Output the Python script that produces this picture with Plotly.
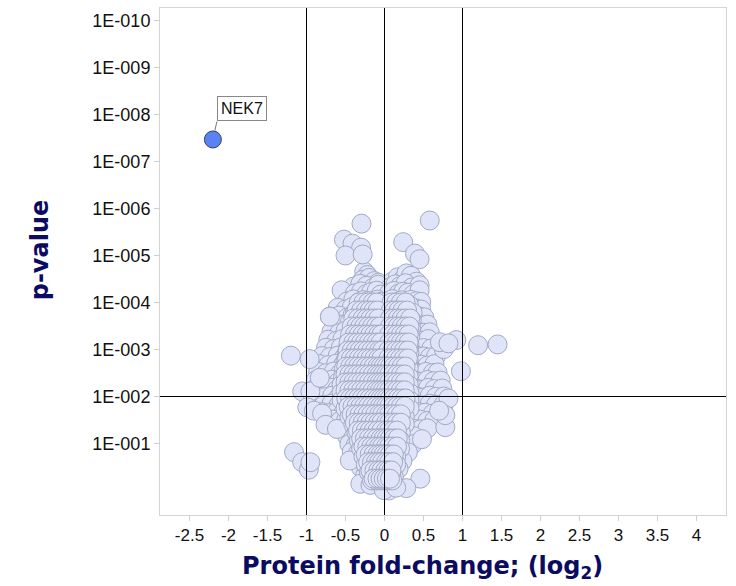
import math
import plotly.graph_objects as go

# ---- data ----
# log2 protein fold-change of every protein (one line ~ one band of p-values)
fold_change = [
    -0.26, -0.22, -0.28, -0.20, -0.13, -0.08, 0.10, 0.17, 0.24, 0.28, 0.31, 0.34, 0.41,
    -0.40, -0.31, -0.23, -0.15, -0.08, 0.08, 0.14, 0.20, 0.27, 0.35, 0.45,
    -0.55, -0.38, -0.30, -0.23, -0.17, -0.10, -0.05, 0.06, 0.12, 0.18, 0.24, 0.30, 0.37, 0.45,
    -0.48, -0.40, -0.33, -0.27, -0.21, -0.15, -0.09, -0.04, 0.05, 0.10, 0.16, 0.22, 0.28, 0.34, 0.41, 0.47,
    -0.60, -0.50, -0.42, -0.35, -0.29, -0.23, -0.17, -0.11, -0.05, 0.05, 0.10, 0.15, 0.21, 0.27, 0.33, 0.39, 0.47,
    -0.70, -0.58, -0.48, -0.41, -0.35, -0.29, -0.23, -0.17, -0.11, -0.05, 0.05, 0.10, 0.15, 0.20, 0.26, 0.32, 0.38, 0.44, 0.51,
    -0.62, -0.52, -0.45, -0.38, -0.32, -0.26, -0.20, -0.14, -0.08, -0.03, 0.04, 0.09, 0.14, 0.19, 0.25, 0.31, 0.37, 0.44, 0.55,
    -0.68, -0.58, -0.50, -0.43, -0.36, -0.30, -0.24, -0.18, -0.12, -0.07, -0.03, 0.04, 0.09, 0.14, 0.19, 0.24, 0.30, 0.36, 0.42, 0.50, 0.58,
    -0.72, -0.62, -0.54, -0.46, -0.40, -0.33, -0.27, -0.21, -0.15, -0.10, -0.05, 0.03, 0.08, 0.13, 0.18, 0.23, 0.29, 0.35, 0.41, 0.48, 0.56,
    -0.75, -0.65, -0.56, -0.48, -0.41, -0.35, -0.29, -0.23, -0.17, -0.11, -0.06, -0.02, 0.03, 0.08, 0.13, 0.18, 0.23, 0.29, 0.35, 0.42, 0.50, 0.60,
    -0.80, -0.70, -0.60, -0.52, -0.45, -0.38, -0.31, -0.25, -0.19, -0.13, -0.08, -0.03, 0.03, 0.08, 0.13, 0.18, 0.23, 0.29, 0.35, 0.42, 0.50, 0.58, 0.66,
    -0.83, -0.72, -0.62, -0.54, -0.47, -0.40, -0.33, -0.27, -0.21, -0.15, -0.10, -0.05, 0.02, 0.07, 0.12, 0.17, 0.22, 0.28, 0.34, 0.40, 0.47, 0.55, 0.64,
    -0.85, -0.75, -0.65, -0.57, -0.49, -0.42, -0.35, -0.29, -0.23, -0.17, -0.11, -0.06, -0.02, 0.02, 0.07, 0.12, 0.17, 0.22, 0.28, 0.34, 0.40, 0.46, 0.53, 0.62, 0.68,
    -0.88, -0.77, -0.68, -0.59, -0.51, -0.44, -0.37, -0.30, -0.24, -0.18, -0.12, -0.07, -0.02, 0.02, 0.07, 0.12, 0.17, 0.22, 0.28, 0.34, 0.40, 0.47, 0.55, 0.63, 0.72,
    -0.88, -0.79, -0.70, -0.61, -0.53, -0.46, -0.39, -0.32, -0.26, -0.20, -0.14, -0.08, -0.03, 0.02, 0.07, 0.12, 0.17, 0.22, 0.28, 0.34, 0.41, 0.48, 0.56, 0.64, 0.74,
    -0.86, -0.76, -0.67, -0.59, -0.51, -0.44, -0.37, -0.30, -0.24, -0.18, -0.12, -0.07, -0.02, 0.02, 0.07, 0.12, 0.17, 0.23, 0.29, 0.35, 0.42, 0.50, 0.58, 0.66, 0.76,
    -0.90, -0.78, -0.68, -0.59, -0.51, -0.44, -0.37, -0.30, -0.24, -0.18, -0.12, -0.07, -0.02, 0.02, 0.07, 0.12, 0.17, 0.23, 0.29, 0.35, 0.42, 0.50, 0.58, 0.66, 0.76,
    -0.80, -0.70, -0.61, -0.53, -0.45, -0.38, -0.31, -0.25, -0.19, -0.13, -0.07, -0.02, 0.02, 0.07, 0.12, 0.17, 0.23, 0.29, 0.36, 0.44, 0.52, 0.62,
    -0.66, -0.57, -0.49, -0.42, -0.35, -0.28, -0.22, -0.16, -0.10, -0.05, 0.02, 0.07, 0.12, 0.18, 0.24, 0.31, 0.38, 0.46, 0.55, 0.64,
    -0.52, -0.44, -0.37, -0.30, -0.24, -0.18, -0.12, -0.06, -0.02, 0.02, 0.07, 0.12, 0.18, 0.24, 0.31, 0.38, 0.46, 0.55,
    -0.48, -0.40, -0.33, -0.26, -0.20, -0.14, -0.08, -0.03, 0.02, 0.07, 0.12, 0.18, 0.24, 0.30, 0.38,
    -0.45, -0.37, -0.30, -0.24, -0.18, -0.12, -0.06, -0.02, 0.02, 0.07, 0.12, 0.17, 0.23, 0.29, 0.36,
    -0.42, -0.34, -0.27, -0.21, -0.15, -0.09, -0.04, 0.02, 0.07, 0.12, 0.17, 0.23, 0.30,
    -0.33, -0.26, -0.20, -0.14, -0.08, -0.03, 0.02, 0.07, 0.12, 0.17, 0.23,
    -0.30, -0.23, -0.17, -0.11, -0.06, -0.02, 0.02, 0.07, 0.12, 0.18,
    -0.25, -0.19, -0.13, -0.08, -0.03, 0.02, 0.07, 0.12,
    -0.12, -0.06, -0.02, 0.02, 0.07, 0.13,
    # scattered proteins
    -0.295, -0.52, -0.41, -0.30, -0.50, -0.28, 0.58, 0.24, 0.39, 0.45,
    -0.70, 1.20, 1.45, 0.98, 0.92, 0.76, 0.71, 0.82, 0.82,
    -1.20, -0.96, -1.055, -0.95, -0.83, -1.16, -1.055, -0.97, -0.95,
    -0.99, -0.906, -0.80, -0.756, -0.61, -0.445, -0.31, -0.18,
    0.78, 0.78, 0.70, 0.48, 0.46, 0.28, 0.055, -0.01, 0.15,
]

p_value = [
    2.2e-5, 2.6e-5, 3.3e-5, 3.0e-5, 3.5e-5, 3.8e-5, 3.6e-5, 2.9e-5, 3.2e-5, 2.4e-5, 3.4e-5, 2.7e-5, 3.6e-5,
    4.6e-5, 4.0e-5, 4.4e-5, 4.9e-5, 4.2e-5, 4.7e-5, 4.1e-5, 4.5e-5, 3.9e-5, 4.8e-5, 4.3e-5,
    5.5e-5, 6.4e-5, 5.8e-5, 6.6e-5, 6.0e-5, 5.6e-5, 6.8e-5, 6.3e-5, 5.7e-5, 6.5e-5, 5.9e-5, 6.2e-5, 6.7e-5, 5.5e-5,
    9.5e-5, 8.6e-5, 9.9e-5, 8.9e-5, 9.3e-5, 1.0e-4, 8.7e-5, 9.6e-5, 9.2e-5, 8.5e-5, 9.8e-5, 9.0e-5, 1.0e-4, 8.8e-5, 9.4e-5, 9.7e-5,
    1.30e-4, 1.42e-4, 1.26e-4, 1.38e-4, 1.31e-4, 1.45e-4, 1.28e-4, 1.36e-4, 1.40e-4, 1.27e-4, 1.39e-4, 1.33e-4, 1.44e-4, 1.29e-4, 1.37e-4, 1.32e-4, 1.41e-4,
    2.0e-4, 1.9e-4, 2.1e-4, 1.85e-4, 2.05e-4, 1.95e-4, 2.15e-4, 1.88e-4, 2.02e-4, 1.92e-4, 2.08e-4, 1.87e-4, 2.12e-4, 1.97e-4, 2.04e-4, 1.9e-4, 2.1e-4, 1.96e-4, 2.06e-4,
    2.8e-4, 3.0e-4, 2.75e-4, 3.1e-4, 2.85e-4, 2.95e-4, 3.05e-4, 2.8e-4, 2.9e-4, 3.15e-4, 2.7e-4, 3.0e-4, 2.85e-4, 3.1e-4, 2.9e-4, 2.78e-4, 3.02e-4, 2.88e-4, 2.95e-4,
    4.2e-4, 4.5e-4, 4.0e-4, 4.6e-4, 4.1e-4, 4.4e-4, 4.7e-4, 4.2e-4, 4.3e-4, 4.5e-4, 4.0e-4, 4.4e-4, 4.6e-4, 4.1e-4, 4.3e-4, 4.7e-4, 4.2e-4, 4.5e-4, 4.1e-4, 4.4e-4, 4.3e-4,
    6.2e-4, 6.6e-4, 6.0e-4, 6.8e-4, 6.3e-4, 6.5e-4, 6.1e-4, 6.7e-4, 6.4e-4, 6.2e-4, 6.6e-4, 6.0e-4, 6.5e-4, 6.3e-4, 6.8e-4, 6.1e-4, 6.4e-4, 6.7e-4, 6.2e-4, 6.5e-4, 6.0e-4,
    9.2e-4, 9.8e-4, 9.0e-4, 1.0e-3, 9.4e-4, 9.7e-4, 9.1e-4, 9.9e-4, 9.5e-4, 9.3e-4, 9.6e-4, 1.0e-3, 9.1e-4, 9.7e-4, 9.4e-4, 9.9e-4, 9.2e-4, 9.6e-4, 9.0e-4, 9.8e-4, 9.3e-4, 9.5e-4,
    1.38e-3, 1.45e-3, 1.35e-3, 1.48e-3, 1.40e-3, 1.43e-3, 1.36e-3, 1.47e-3, 1.41e-3, 1.39e-3, 1.44e-3, 1.37e-3, 1.46e-3, 1.40e-3, 1.35e-3, 1.42e-3, 1.48e-3, 1.38e-3, 1.44e-3, 1.36e-3, 1.41e-3, 1.47e-3, 1.39e-3,
    2.05e-3, 2.15e-3, 2.0e-3, 2.2e-3, 2.08e-3, 2.12e-3, 2.02e-3, 2.18e-3, 2.1e-3, 2.06e-3, 2.14e-3, 2.03e-3, 2.17e-3, 2.09e-3, 2.01e-3, 2.13e-3, 2.19e-3, 2.04e-3, 2.16e-3, 2.07e-3, 2.11e-3, 2.2e-3, 2.05e-3,
    3.0e-3, 3.2e-3, 2.95e-3, 3.25e-3, 3.05e-3, 3.15e-3, 2.98e-3, 3.22e-3, 3.1e-3, 3.03e-3, 3.18e-3, 2.97e-3, 3.2e-3, 3.08e-3, 2.96e-3, 3.14e-3, 3.24e-3, 3.01e-3, 3.19e-3, 3.06e-3, 3.12e-3, 3.23e-3, 3.0e-3, 3.16e-3, 3.09e-3,
    4.5e-3, 4.8e-3, 4.4e-3, 4.9e-3, 4.6e-3, 4.7e-3, 4.45e-3, 4.85e-3, 4.6e-3, 4.5e-3, 4.75e-3, 4.42e-3, 4.8e-3, 4.55e-3, 4.4e-3, 4.7e-3, 4.88e-3, 4.48e-3, 4.78e-3, 4.52e-3, 4.65e-3, 4.9e-3, 4.45e-3, 4.72e-3, 4.58e-3,
    6.6e-3, 7.0e-3, 6.5e-3, 7.2e-3, 6.8e-3, 6.9e-3, 6.55e-3, 7.1e-3, 6.8e-3, 6.65e-3, 7.0e-3, 6.5e-3, 7.15e-3, 6.7e-3, 6.5e-3, 6.95e-3, 7.2e-3, 6.6e-3, 7.05e-3, 6.7e-3, 6.85e-3, 7.2e-3, 6.55e-3, 6.95e-3, 6.75e-3,
    9.8e-3, 1.03e-2, 9.6e-3, 1.05e-2, 1.0e-2, 1.02e-2, 9.7e-3, 1.04e-2, 1.0e-2, 9.8e-3, 1.03e-2, 9.6e-3, 1.05e-2, 9.9e-3, 9.6e-3, 1.02e-2, 1.05e-2, 9.7e-3, 1.04e-2, 9.9e-3, 1.01e-2, 1.05e-2, 9.6e-3, 1.02e-2, 1.0e-2,
    1.45e-2, 1.52e-2, 1.42e-2, 1.55e-2, 1.48e-2, 1.5e-2, 1.44e-2, 1.53e-2, 1.47e-2, 1.45e-2, 1.51e-2, 1.42e-2, 1.55e-2, 1.46e-2, 1.43e-2, 1.5e-2, 1.54e-2, 1.44e-2, 1.52e-2, 1.46e-2, 1.49e-2, 1.55e-2, 1.43e-2, 1.5e-2, 1.47e-2,
    2.15e-2, 2.25e-2, 2.1e-2, 2.3e-2, 2.2e-2, 2.22e-2, 2.12e-2, 2.28e-2, 2.18e-2, 2.14e-2, 2.26e-2, 2.1e-2, 2.3e-2, 2.17e-2, 2.11e-2, 2.24e-2, 2.29e-2, 2.13e-2, 2.27e-2, 2.16e-2, 2.21e-2, 2.3e-2,
    3.1e-2, 3.3e-2, 3.05e-2, 3.35e-2, 3.15e-2, 3.25e-2, 3.08e-2, 3.3e-2, 3.2e-2, 3.12e-2, 3.28e-2, 3.06e-2, 3.34e-2, 3.18e-2, 3.04e-2, 3.26e-2, 3.32e-2, 3.1e-2, 3.3e-2, 3.16e-2,
    4.7e-2, 5.0e-2, 4.6e-2, 5.05e-2, 4.8e-2, 4.9e-2, 4.65e-2, 5.0e-2, 4.75e-2, 4.85e-2, 5.05e-2, 4.6e-2, 4.95e-2, 4.7e-2, 4.6e-2, 4.9e-2, 5.0e-2, 4.75e-2,
    7.0e-2, 7.4e-2, 6.8e-2, 7.5e-2, 7.1e-2, 7.3e-2, 6.9e-2, 7.4e-2, 7.0e-2, 6.8e-2, 7.3e-2, 7.5e-2, 6.9e-2, 7.2e-2, 7.0e-2,
    0.103, 0.108, 0.1, 0.11, 0.105, 0.107, 0.101, 0.109, 0.104, 0.1, 0.108, 0.11, 0.102, 0.106, 0.104,
    0.15, 0.16, 0.148, 0.162, 0.155, 0.158, 0.15, 0.16, 0.152, 0.148, 0.158, 0.162, 0.154,
    0.225, 0.235, 0.22, 0.24, 0.23, 0.232, 0.222, 0.238, 0.228, 0.22, 0.236,
    0.33, 0.35, 0.325, 0.355, 0.34, 0.345, 0.33, 0.35, 0.338, 0.345,
    0.49, 0.51, 0.48, 0.52, 0.5, 0.505, 0.49, 0.515,
    0.73, 0.76, 0.72, 0.75, 0.74, 0.76,
    # scattered proteins
    2.1e-6, 4.6e-6, 5.6e-6, 6.8e-6, 1.0e-5, 9.5e-6, 1.8e-6, 5.2e-6, 9.1e-6, 1.2e-5,
    2.0e-4, 8.1e-4, 7.8e-4, 2.9e-3, 6.3e-4, 9.8e-4, 7.0e-4, 7.4e-4, 1.1e-2,
    1.35e-3, 1.6e-3, 7.8e-3, 7.8e-3, 4.0e-3, 0.153, 0.25, 0.36, 0.25,
    0.017, 0.02, 0.023, 0.04, 0.049, 0.23, 0.72, 0.76,
    0.045, 0.025, 0.02, 0.081, 0.56, 0.89, 1.0, 0.98, 0.87,
]

# densely packed core of the cloud: one p-value per band, fold-changes within it
core_band_p = [1.1e-4, 1.65e-4, 2.4e-4, 3.5e-4, 5.2e-4, 7.8e-4, 1.15e-3, 1.7e-3,
               2.55e-3, 3.8e-3, 5.6e-3, 8.3e-3, 1.2e-2, 1.8e-2, 2.7e-2, 3.9e-2,
               5.8e-2, 8.6e-2, 0.128, 0.19, 0.28, 0.41, 0.61]
core_band_fc = [
    [-0.30, -0.24, -0.18, -0.12, -0.07, 0.07, 0.13, 0.19, 0.25, 0.31],
    [-0.38, -0.32, -0.26, -0.20, -0.14, -0.08, -0.03, 0.07, 0.12, 0.18, 0.24, 0.30, 0.36],
    [-0.38, -0.32, -0.26, -0.20, -0.14, -0.08, -0.03, 0.06, 0.12, 0.17, 0.23, 0.29, 0.35],
    [-0.41, -0.35, -0.29, -0.23, -0.17, -0.11, -0.05, 0.06, 0.11, 0.16, 0.22, 0.28, 0.34],
    [-0.43, -0.37, -0.30, -0.24, -0.18, -0.12, -0.07, -0.02, 0.05, 0.10, 0.16, 0.21, 0.27, 0.33],
    [-0.45, -0.38, -0.32, -0.26, -0.20, -0.14, -0.08, -0.04, 0.05, 0.10, 0.15, 0.21, 0.26, 0.32],
    [-0.48, -0.41, -0.34, -0.28, -0.22, -0.16, -0.10, -0.05, 0.05, 0.10, 0.15, 0.20, 0.26, 0.32],
    [-0.50, -0.43, -0.36, -0.30, -0.24, -0.18, -0.12, -0.07, -0.02, 0.04, 0.09, 0.14, 0.20, 0.25, 0.31],
    [-0.52, -0.45, -0.38, -0.32, -0.26, -0.20, -0.14, -0.08, -0.03, 0.04, 0.09, 0.14, 0.19, 0.25, 0.31],
    [-0.53, -0.46, -0.40, -0.33, -0.27, -0.21, -0.15, -0.09, -0.04, 0.04, 0.09, 0.14, 0.19, 0.25, 0.31],
    [-0.55, -0.48, -0.41, -0.35, -0.28, -0.22, -0.16, -0.10, -0.05, 0.0, 0.04, 0.09, 0.14, 0.19, 0.25, 0.31],
    [-0.55, -0.48, -0.41, -0.34, -0.27, -0.21, -0.15, -0.09, -0.04, 0.0, 0.04, 0.09, 0.14, 0.20, 0.26, 0.32],
    [-0.55, -0.48, -0.40, -0.33, -0.27, -0.21, -0.15, -0.09, -0.04, 0.0, 0.04, 0.09, 0.14, 0.20, 0.26, 0.32],
    [-0.50, -0.41, -0.34, -0.27, -0.21, -0.15, -0.09, -0.04, 0.0, 0.04, 0.09, 0.14, 0.20, 0.26, 0.32],
    [-0.45, -0.38, -0.31, -0.25, -0.19, -0.13, -0.08, -0.03, 0.01, 0.04, 0.09, 0.14, 0.20, 0.26],
    [-0.40, -0.33, -0.27, -0.21, -0.15, -0.09, -0.04, 0.0, 0.04, 0.09, 0.14, 0.20, 0.26],
    [-0.36, -0.29, -0.23, -0.17, -0.11, -0.05, 0.0, 0.04, 0.09, 0.15, 0.21],
    [-0.33, -0.27, -0.21, -0.15, -0.09, -0.04, 0.0, 0.04, 0.09, 0.14, 0.20],
    [-0.30, -0.24, -0.18, -0.12, -0.06, 0.0, 0.04, 0.09, 0.15, 0.20],
    [-0.27, -0.21, -0.15, -0.09, -0.04, 0.0, 0.04, 0.09, 0.15],
    [-0.24, -0.18, -0.12, -0.06, 0.0, 0.04, 0.09, 0.15],
    [-0.20, -0.14, -0.09, -0.04, 0.0, 0.04, 0.09],
    [-0.16, -0.10, -0.05, 0.0, 0.05, 0.10],
]
inner_band_p = [1.0e-4, 1.48e-4, 2.19e-4, 3.24e-4, 4.8e-4, 7.1e-4, 1.05e-3, 1.55e-3,
                2.3e-3, 3.4e-3, 5.0e-3, 7.4e-3, 1.1e-2, 1.63e-2, 2.4e-2, 3.6e-2,
                5.3e-2, 7.8e-2, 0.116, 0.171, 0.25, 0.375, 0.56]
inner_band_fc = [
    [-0.33, -0.27, -0.21, -0.15, -0.10, 0.09, 0.15, 0.21, 0.27],
    [-0.36, -0.30, -0.24, -0.19, -0.14, -0.09, 0.08, 0.13, 0.18, 0.23, 0.29],
    [-0.40, -0.34, -0.28, -0.23, -0.18, -0.13, -0.08, 0.07, 0.12, 0.17, 0.22, 0.27, 0.33],
    [-0.42, -0.36, -0.31, -0.26, -0.21, -0.16, -0.11, -0.06, 0.07, 0.12, 0.17, 0.22, 0.27, 0.32],
    [-0.44, -0.38, -0.33, -0.28, -0.23, -0.18, -0.13, -0.08, -0.04, 0.06, 0.11, 0.16, 0.21, 0.26, 0.31],
    [-0.46, -0.40, -0.35, -0.30, -0.25, -0.20, -0.15, -0.10, -0.05, 0.06, 0.11, 0.16, 0.21, 0.26, 0.31],
    [-0.47, -0.42, -0.37, -0.32, -0.27, -0.22, -0.17, -0.12, -0.07, -0.03, 0.05, 0.10, 0.15, 0.20, 0.25, 0.30],
    [-0.48, -0.43, -0.38, -0.33, -0.28, -0.23, -0.18, -0.13, -0.08, -0.04, 0.05, 0.10, 0.15, 0.20, 0.25, 0.30],
    [-0.49, -0.44, -0.39, -0.34, -0.29, -0.24, -0.19, -0.14, -0.09, -0.05, -0.01, 0.03, 0.07, 0.12, 0.17, 0.22, 0.27],
    [-0.50, -0.45, -0.40, -0.35, -0.30, -0.25, -0.20, -0.15, -0.10, -0.06, -0.02, 0.02, 0.06, 0.11, 0.16, 0.21, 0.26],
    [-0.50, -0.45, -0.40, -0.35, -0.30, -0.25, -0.20, -0.15, -0.10, -0.06, -0.02, 0.02, 0.06, 0.11, 0.16, 0.21, 0.26],
    [-0.50, -0.45, -0.40, -0.35, -0.30, -0.25, -0.20, -0.15, -0.10, -0.06, -0.02, 0.02, 0.06, 0.11, 0.16, 0.21, 0.26],
    [-0.49, -0.44, -0.39, -0.34, -0.29, -0.24, -0.19, -0.14, -0.09, -0.05, -0.01, 0.03, 0.07, 0.12, 0.17, 0.22, 0.27],
    [-0.46, -0.41, -0.36, -0.31, -0.26, -0.21, -0.16, -0.11, -0.06, -0.02, 0.02, 0.06, 0.11, 0.16, 0.21, 0.26],
    [-0.42, -0.37, -0.32, -0.27, -0.22, -0.17, -0.12, -0.07, -0.03, 0.02, 0.06, 0.11, 0.16, 0.21],
    [-0.38, -0.33, -0.28, -0.23, -0.18, -0.13, -0.08, -0.04, 0.02, 0.06, 0.11, 0.16, 0.21],
    [-0.34, -0.29, -0.24, -0.19, -0.14, -0.09, -0.04, 0.02, 0.06, 0.11, 0.16],
    [-0.30, -0.25, -0.20, -0.15, -0.10, -0.05, -0.01, 0.03, 0.07, 0.12, 0.17],
    [-0.27, -0.22, -0.17, -0.12, -0.07, -0.03, 0.02, 0.06, 0.11, 0.16],
    [-0.24, -0.19, -0.14, -0.09, -0.05, -0.01, 0.03, 0.07, 0.12],
    [-0.21, -0.16, -0.11, -0.07, -0.03, 0.02, 0.06, 0.11],
    [-0.18, -0.13, -0.08, -0.04, 0.01, 0.05, 0.09],
    [-0.14, -0.09, -0.05, -0.01, 0.03, 0.07],
]

highlight_name = ["NEK7"]
highlight_fc = [-2.2]
highlight_p = [3.4e-8]

fc_thresholds = [-1, 0, 1]
p_threshold = 0.01

y_tick_vals = [1e-10, 1e-9, 1e-8, 1e-7, 1e-6, 1e-5, 1e-4, 1e-3, 1e-2, 1e-1]
y_tick_text = ["1E-010", "1E-009", "1E-008", "1E-007", "1E-006",
               "1E-005", "1E-004", "1E-003", "1E-002", "1E-001"]
x_tick_vals = [-2.5, -2, -1.5, -1, -0.5, 0, 0.5, 1, 1.5, 2, 2.5, 3, 3.5, 4]
x_tick_text = ["-2.5", "-2", "-1.5", "-1", "-0.5", "0", "0.5", "1",
               "1.5", "2", "2.5", "3", "3.5", "4"]

assert len(fold_change) == len(p_value)

all_fc = list(fold_change)
all_p = list(p_value)
for bands_p, bands_fc in ((core_band_p, core_band_fc), (inner_band_p, inner_band_fc)):
    for pv, row in zip(bands_p, bands_fc):
        all_fc.extend(row)
        all_p.extend([pv] * len(row))

# axis ranges (y in log10 units; reversed so small p-values are at the top)
x_range = [-2.87821, 4.37821]
y_range = [0.52127, -10.26596]

navy = "#0b0b62"

fig = go.Figure()
fig.add_trace(go.Scatter(
    x=all_fc, y=all_p, mode="markers",
    marker=dict(size=19, color="#dfe4f8", line=dict(color="#a2a9c3", width=1)),
    hoverinfo="skip", showlegend=False,
))
fig.add_trace(go.Scatter(
    x=highlight_fc, y=highlight_p, mode="markers", text=highlight_name,
    marker=dict(size=17, color="#5b82f2", line=dict(color="#3a3f63", width=1)),
    showlegend=False,
))

for name, xv, pv in zip(highlight_name, highlight_fc, highlight_p):
    fig.add_annotation(
        x=xv, y=math.log10(pv), xref="x", yref="y", text=name,
        showarrow=True, arrowhead=0, arrowwidth=1, arrowcolor="#777777",
        ax=4, ay=-18, xanchor="left", yanchor="bottom", standoff=9,
        bordercolor="#888888", borderwidth=1, borderpad=3, bgcolor="white",
        font=dict(family="Liberation Sans, Arial, sans-serif", size=16, color="#111111"),
    )

# axis titles
title_font = dict(family="DejaVu Sans, Verdana, sans-serif", size=24, color=navy, weight="bold")
fig.add_annotation(text="Protein fold-change; (log<sub>2</sub>)", xref="paper", yref="paper",
                   x=0.463, y=-0.104, xanchor="center", yanchor="middle",
                   showarrow=False, font=title_font)
fig.add_annotation(text="p-value", xref="paper", yref="paper", textangle=-90,
                   x=-0.213, y=0.523, xanchor="center", yanchor="middle",
                   showarrow=False, font=title_font)

shapes = []
for xv in fc_thresholds:
    shapes.append(dict(type="line", xref="x", yref="paper", x0=xv, x1=xv, y0=0, y1=1,
                       line=dict(color="black", width=1), layer="above"))
# horizontal significance line, placed through the axis scale as a fraction of the plot
p_frac = (math.log10(p_threshold) - y_range[0]) / (y_range[1] - y_range[0])
shapes.append(dict(type="line", xref="paper", yref="paper", x0=0, x1=1,
                   y0=p_frac, y1=p_frac,
                   line=dict(color="black", width=1), layer="above"))

y_tick_font = dict(family="Liberation Sans, Arial, sans-serif", size=18, color="#111111")
x_tick_font = dict(family="Liberation Sans, Arial, sans-serif", size=17, color="#111111")

fig.update_layout(
    width=736, height=586,
    margin=dict(l=160, r=10, t=8, b=71),
    paper_bgcolor="white", plot_bgcolor="white",
    shapes=shapes,
    xaxis=dict(
        range=x_range, tickmode="array", tickvals=x_tick_vals, ticktext=x_tick_text,
        showgrid=False, zeroline=False, showline=True, mirror=True, linecolor="#d4d4d4", linewidth=1,
        ticks="outside", ticklen=5, tickcolor="#cfcfcf", tickfont=x_tick_font, automargin=False,
    ),
    yaxis=dict(
        type="log", range=y_range, tickmode="array",
        tickvals=y_tick_vals, ticktext=y_tick_text,
        showgrid=False, zeroline=False, showline=True, mirror=True, linecolor="#d4d4d4", linewidth=1,
        ticks="outside", ticklen=5, tickcolor="#cfcfcf", tickfont=y_tick_font, automargin=False,
    ),
)

fig.write_html("out.html", config={"displayModeBar": False},
               post_script="document.body.style.margin='0';")
